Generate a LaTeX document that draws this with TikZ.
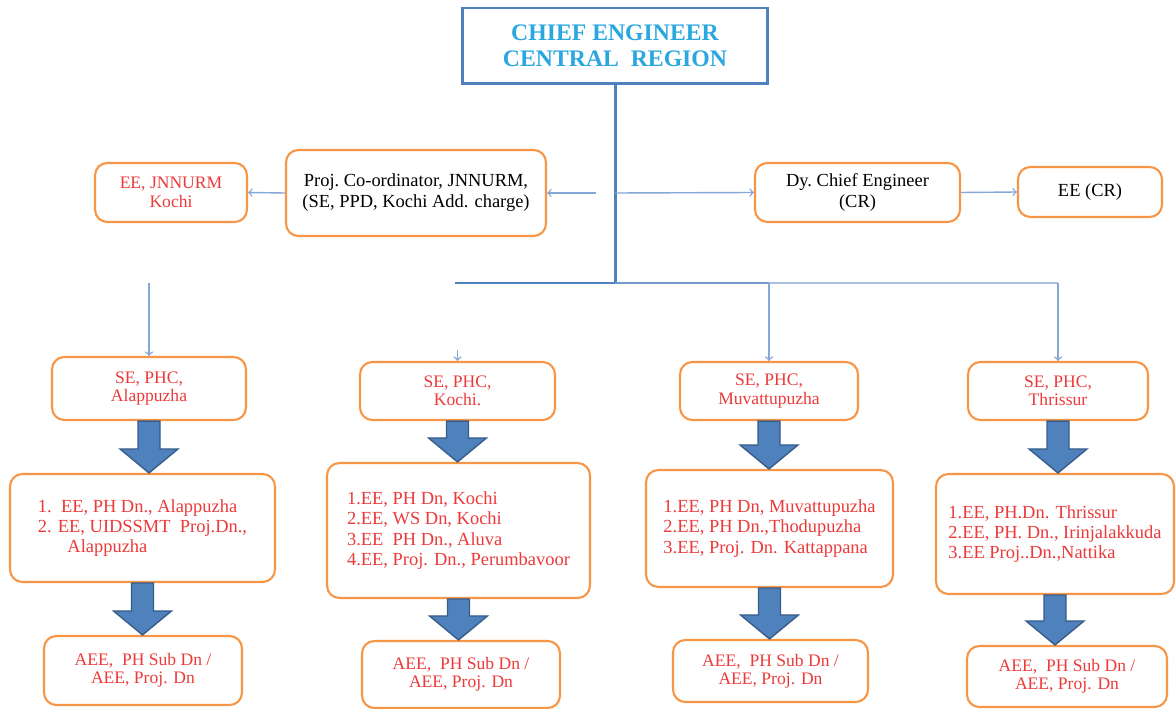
\documentclass[tikz,border=0pt]{standalone}
\usepackage{fontspec}
\setmainfont{Liberation Serif}
\usetikzlibrary{arrows,calc}

\definecolor{boxorange}{HTML}{F79646}
\definecolor{lineblue}{HTML}{4F81BD}
\definecolor{midblue}{HTML}{7399CB}
\definecolor{paleblue}{HTML}{A8C0E0}
\definecolor{thinblue}{HTML}{86A8D6}
\definecolor{darkblue}{HTML}{385D8A}
\definecolor{titleblue}{HTML}{2AA7DF}
\definecolor{textred}{HTML}{EC3A3A}

% fat block arrow from one box down to the next
\newcommand{\blockarrow}[2]{%
  \draw[fat] let \p1=(#1.south), \p2=(#2.north) in
    (\x1-0.22cm,\y1) -- (\x1+0.22cm,\y1) -- (\x1+0.22cm,\y2+0.48cm)
    -- (\x1+0.58cm,\y2+0.48cm) -- (\x1,\y2) -- (\x1-0.58cm,\y2+0.48cm)
    -- (\x1-0.22cm,\y2+0.48cm) -- cycle;}

\begin{document}
\begin{tikzpicture}[x=0.02cm,y=-0.02cm,
  post/.style={draw=boxorange,line width=1.2pt,rounded corners=7pt,fill=white,
    align=center,inner sep=2pt,font=\fontsize{10.5}{12}\selectfont},
  redpost/.style={post,text=textred,font=\fontsize{10}{10.5}\selectfont},
  list/.style={post,text=textred,font=\fontsize{10.5}{11.5}\selectfont},
  link/.style={draw=thinblue,line width=0.8pt,->},
  fat/.style={fill=lineblue,draw=darkblue,line width=0.8pt}]
\useasboundingbox (0,0) rectangle (1176,709);

\node at (615,46) [draw=lineblue,line width=1.7pt,fill=white,minimum width=6.12cm,
  minimum height=1.52cm,align=center,text=titleblue,
  font=\bfseries\fontsize{13.5}{14.5}\selectfont] (ce) {CHIEF ENGINEER\\CENTRAL~~REGION};

% second row
\node at (171,192.5) [redpost,minimum width=3.04cm,minimum height=1.18cm] (jn) {EE, JNNURM\\Kochi};
\node at (416,193) [post,minimum width=5.2cm,minimum height=1.72cm] (pc)
  {Proj.~Co-ordinator, JNNURM,\\(SE, PPD, Kochi Add. charge)};
\node at (857.5,192.5) [post,minimum width=4.1cm,minimum height=1.18cm] (dce) {Dy.~Chief Engineer\\(CR)};
\node at (1090,192) [post,minimum width=2.88cm,minimum height=1cm] (eecr) {EE (CR)};

% circles
\node at (149,388.5) [redpost,minimum width=3.88cm,minimum height=1.26cm] (se1) {SE, PHC,\\Alappuzha};
\node at (457.5,391) [redpost,minimum width=3.9cm,minimum height=1.16cm] (se2) {SE, PHC,\\Kochi.};
\node at (769,391) [redpost,minimum width=3.56cm,minimum height=1.16cm] (se3) {SE, PHC,\\Muvattupuzha};
\node at (1058,391) [redpost,minimum width=3.6cm,minimum height=1.16cm] (se4) {SE, PHC,\\Thrissur};

% divisions
\node at (142.5,528) [list,minimum width=5.3cm,minimum height=2.16cm,align=left] (dv1)
  {1.~~EE, PH Dn., Alappuzha\\2. EE, UIDSSMT~~Proj.Dn.,\\\hspace*{1.6em}Alappuzha};
\node at (458.5,530.5) [list,minimum width=5.26cm,minimum height=2.7cm,align=left] (dv2)
  {1.EE, PH Dn, Kochi\\2.EE, WS Dn, Kochi\\3.EE~~PH Dn., Aluva\\4.EE, Proj. Dn., Perumbavoor};
\node at (769.5,528.5) [list,minimum width=4.94cm,minimum height=2.34cm,align=left] (dv3)
  {1.EE, PH Dn, Muvattupuzha\\2.EE, PH Dn.,Thodupuzha\\3.EE, Proj. Dn. Kattappana};
\node at (1055,534) [list,minimum width=4.76cm,minimum height=2.4cm,align=left] (dv4)
  {1.EE, PH.Dn. Thrissur\\2.EE, PH. Dn., Irinjalakkuda\\3.EE Proj..Dn.,Nattika};

% sub divisions
\node at (143,670.5) [redpost,minimum width=3.96cm,minimum height=1.38cm] (sd1) {AEE,~~PH Sub Dn /\\AEE, Proj. Dn};
\node at (461,674.5) [redpost,minimum width=3.96cm,minimum height=1.34cm] (sd2) {AEE,~~PH Sub Dn /\\AEE, Proj. Dn};
\node at (770.5,671) [redpost,minimum width=3.9cm,minimum height=1.24cm] (sd3) {AEE,~~PH Sub Dn /\\AEE, Proj. Dn};
\node at (1067,676.5) [redpost,minimum width=4cm,minimum height=1.22cm] (sd4) {AEE,~~PH Sub Dn /\\AEE, Proj. Dn};

% trunk
\coordinate (j) at (615,283);
\coordinate (jl) at (455,283);
\coordinate (j3) at (769,283);
\coordinate (j4) at (1058,283);
\coordinate (c1) at (149,283);
\coordinate (c2) at (457.5,350);
\coordinate (bl) at (596,193);
\coordinate (br) at (615,193);
\draw[lineblue,line width=1.7pt] (ce.south) -- (j);
\draw[lineblue,line width=1.5pt] (jl) -- (j);
\draw[midblue,line width=1.5pt] (j) -- (j3);
\draw[paleblue,line width=1.5pt] (j3) -- (j4);

\draw[link] (bl) -- (pc.east);
\draw[link] (pc.west) -- (jn.east);
\draw[link] (br) -- (dce.west);
\draw[link] (dce.east) -- (eecr.west);
\draw[link] (c1) -- (se1.north);
\draw[link] (c2) -- (se2.north);
\draw[link] (j3) -- (se3.north);
\draw[link] (j4) -- (se4.north);

\blockarrow{se1}{dv1}
\blockarrow{se2}{dv2}
\blockarrow{se3}{dv3}
\blockarrow{se4}{dv4}
\blockarrow{dv1}{sd1}
\blockarrow{dv2}{sd2}
\blockarrow{dv3}{sd3}
\blockarrow{dv4}{sd4}
\end{tikzpicture}
\end{document}
